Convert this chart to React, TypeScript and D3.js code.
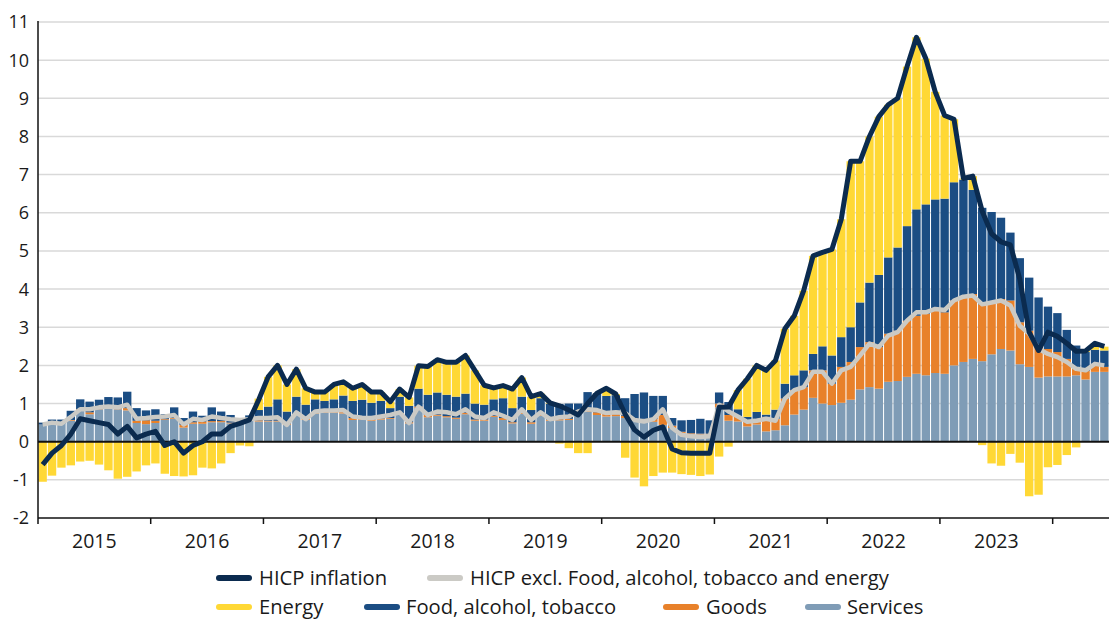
import { useMemo } from "react";
import * as d3 from "d3";

const WIDTH = 1109;
const HEIGHT = 619;
const MARGIN = { top: 22, right: 0, bottom: 101, left: 38 };
const FONT = "'Open Sans', sans-serif";

// monthly observations, Jan 2015 .. Jun 2024
const MONTHS = d3.timeMonth
  .range(new Date(2015, 0, 1), new Date(2024, 6, 1))
  .map(d3.timeFormat("%Y-%m"));
const YEARS = ["2015", "2016", "2017", "2018", "2019", "2020", "2021", "2022", "2023"];
const Y_TICKS = [-2, -1, 0, 1, 2, 3, 4, 5, 6, 7, 8, 9, 10, 11];

// contributions, percentage points
const SERVICES = [
  0.45, 0.48, 0.47, 0.55, 0.83, 0.72, 0.85, 0.88, 0.85, 0.82, 0.49, 0.46,
  0.49, 0.57, 0.6, 0.37, 0.47, 0.47, 0.51, 0.51, 0.48, 0.55, 0.55, 0.53,
  0.53, 0.53, 0.44, 0.7, 0.57, 0.74, 0.76, 0.76, 0.74, 0.57, 0.57, 0.55,
  0.58, 0.6, 0.72, 0.48, 0.88, 0.64, 0.68, 0.64, 0.6, 0.72, 0.55, 0.55,
  0.65, 0.57, 0.48, 0.73, 0.47, 0.68, 0.55, 0.56, 0.57, 0.77, 0.78, 0.7,
  0.66, 0.67, 0.62, 0.55, 0.55, 0.52, 0.44, 0.36, 0.23, 0.19, 0.19, 0.19,
  0.9, 0.55, 0.53, 0.4, 0.45, 0.27, 0.3, 0.43, 0.71, 0.84, 1.15, 1.0,
  0.96, 1.02, 1.1, 1.37, 1.43, 1.39, 1.57, 1.59, 1.7, 1.78, 1.74, 1.8,
  1.78, 2.0, 2.09, 2.17, 2.11, 2.29, 2.43, 2.39, 2.03, 1.96, 1.68, 1.71,
  1.71, 1.71, 1.74, 1.63, 1.83, 1.83,
];
const GOODS = [
  0, 0, 0, 0.02, 0.02, 0.05, 0.02, 0.02, 0.03, 0.06, 0.06, 0.1,
  0.06, 0.02, 0.02, 0.07, 0.04, 0.06, 0.03, 0.03, 0.02, 0.02, 0.02, 0.03,
  0.02, 0.02, 0.02, 0.02, 0.03, 0.02, 0.02, 0.02, 0.05, 0.05, 0.03, 0.03,
  0.03, 0.02, 0.03, 0.03, 0.04, 0.06, 0.03, 0.03, 0.03, 0.04, 0.03, 0.03,
  0.03, 0.05, 0.03, 0.03, 0.04, 0.03, 0.03, 0.03, 0.03, 0.03, 0.05, 0.07,
  0.06, 0.05, 0.06, 0.05, 0.05, 0.07, 0.26, 0.06, 0.03, 0.03, 0.02, 0.02,
  0.1, 0.15, 0.13, 0.15, 0.15, 0.38, 0.3, 0.7, 0.64, 0.59, 0.72, 0.87,
  0.56, 0.94, 0.99, 1.11, 1.18, 1.09, 1.26, 1.32, 1.47, 1.52, 1.61, 1.63,
  1.61, 1.7, 1.69, 1.7, 1.49, 1.36, 1.31, 1.31, 1.1, 0.95, 0.8, 0.72,
  0.64, 0.46, 0.22, 0.22, 0.17, 0.13,
];
const FOOD = [
  0.05, 0.1, 0.11, 0.24, 0.26, 0.28, 0.23, 0.27, 0.28, 0.43, 0.33, 0.26,
  0.3, 0.13, 0.28, 0.18, 0.28, 0.15, 0.36, 0.25, 0.2, 0.01, 0.12, 0.27,
  0.37, 0.56, 0.33, 0.46, 0.37, 0.35, 0.29, 0.33, 0.42, 0.45, 0.5, 0.44,
  0.46, 0.26, 0.43, 0.43, 0.47, 0.53, 0.58, 0.56, 0.55, 0.5, 0.42, 0.39,
  0.43, 0.52, 0.37, 0.42, 0.32, 0.43, 0.42, 0.4, 0.4, 0.2, 0.47, 0.5,
  0.48, 0.5, 0.46, 0.65, 0.69, 0.61, 0.5, 0.2, 0.3, 0.35, 0.39, 0.35,
  0.29, 0.34, 0.19, 0.1, 0.18, 0.06, 0.24, 0.39, 0.39, 0.44, 0.43, 0.63,
  0.74, 0.78, 0.91, 1.17, 1.56, 1.89, 2.0, 2.18, 2.48, 2.79, 2.87, 2.92,
  2.98, 3.1, 3.09, 2.73, 2.53, 2.37, 2.13, 1.78, 1.68, 1.39, 1.3, 1.11,
  1.02, 0.76, 0.56, 0.5, 0.41, 0.43,
];
const ENERGY = [
  -1.05, -0.89, -0.68, -0.62, -0.52, -0.5, -0.6, -0.75, -0.97, -0.92, -0.78, -0.62,
  -0.57, -0.84, -0.9, -0.91, -0.88, -0.68, -0.7, -0.57, -0.3, -0.1, -0.12, 0.3,
  0.78, 0.89, 0.71, 0.72, 0.43, 0.19, 0.23, 0.39, 0.36, 0.33, 0.4, 0.28,
  0.23, 0.17, 0.2, 0.22, 0.6, 0.74, 0.86, 0.85, 0.9, 1.0, 0.87, 0.51,
  0.3, 0.33, 0.5, 0.5, 0.35, 0.12, 0.02, -0.05, -0.17, -0.3, -0.3, 0,
  0.2, 0.03, -0.42, -0.94, -1.17, -0.9, -0.81, -0.81, -0.85, -0.87, -0.9, -0.86,
  -0.39, -0.13, 0.5, 1.0, 1.22, 1.16, 1.29, 1.44, 1.56, 2.09, 2.57, 2.46,
  2.78, 3.09, 4.35, 3.7, 3.83, 4.15, 4.0, 3.91, 4.18, 4.51, 3.82, 2.82,
  2.18, 1.65, 0.03, 0.36, -0.09, -0.57, -0.63, -0.32, -0.55, -1.43, -1.39, -0.67,
  -0.61, -0.35, -0.15, 0.03, 0.17, 0.1,
];
const HICP = [
  -0.6, -0.3, -0.1, 0.2, 0.6, 0.55, 0.5, 0.45, 0.2, 0.4, 0.1, 0.2,
  0.27, -0.1, 0, -0.3, -0.1, 0, 0.2, 0.2, 0.4, 0.48, 0.57, 1.1,
  1.7, 2.0, 1.5, 1.9, 1.4, 1.3, 1.3, 1.5, 1.57, 1.4, 1.5, 1.3,
  1.3, 1.05, 1.38, 1.16, 1.99, 1.97, 2.15, 2.08, 2.08, 2.26, 1.87, 1.48,
  1.41, 1.47, 1.38, 1.68, 1.18, 1.26, 1.02, 0.94, 0.83, 0.7, 1.0, 1.27,
  1.4, 1.25, 0.72, 0.31, 0.12, 0.3, 0.39, -0.19, -0.29, -0.3, -0.3, -0.3,
  0.9, 0.91, 1.35, 1.65, 2.0, 1.87, 2.13, 2.96, 3.3, 3.96, 4.87, 4.96,
  5.04, 5.83, 7.35, 7.35, 8.0, 8.52, 8.83, 9.0, 9.83, 10.6, 10.04, 9.17,
  8.55, 8.45, 6.9, 6.96, 6.04, 5.45, 5.24, 5.16, 4.26, 2.87, 2.39, 2.87,
  2.76, 2.58, 2.37, 2.38, 2.58, 2.5,
];
const CORE = [
  0.45, 0.5, 0.47, 0.65, 0.85, 0.85, 0.9, 0.92, 0.9, 0.97, 0.6, 0.62,
  0.65, 0.66, 0.7, 0.45, 0.6, 0.57, 0.66, 0.62, 0.59, 0.57, 0.59, 0.62,
  0.62, 0.64, 0.44, 0.77, 0.59, 0.79, 0.82, 0.82, 0.83, 0.66, 0.63, 0.62,
  0.66, 0.7, 0.77, 0.49, 0.92, 0.7, 0.79, 0.77, 0.72, 0.85, 0.66, 0.62,
  0.77, 0.68, 0.57, 0.85, 0.57, 0.77, 0.59, 0.64, 0.66, 0.79, 0.85, 0.83,
  0.75, 0.77, 0.75, 0.57, 0.53, 0.59, 0.85, 0.36, 0.18, 0.14, 0.12, 0.14,
  0.97, 0.79, 0.66, 0.52, 0.55, 0.6, 0.55, 1.13, 1.35, 1.43, 1.83, 1.83,
  1.52, 1.87, 1.96, 2.26, 2.57, 2.48, 2.78, 2.87, 3.17, 3.39, 3.39, 3.48,
  3.45, 3.7, 3.8, 3.83, 3.6, 3.65, 3.7, 3.57, 3.04, 2.83, 2.43, 2.3,
  2.22, 2.09, 1.91, 1.87, 2.04, 2.0,
];

const KEYS = ["services", "goods", "food", "energy"] as const;
const COLORS: Record<string, string> = {
  services: "#7f9cb6",
  goods: "#e8812a",
  food: "#1b4d83",
  energy: "#ffd835",
};
const HICP_COLOR = "#0b2b4f";
const CORE_COLOR = "#cbcac5";

export default function App() {
  const rows = useMemo(
    () =>
      MONTHS.map((m, i) => ({
        month: m,
        services: SERVICES[i],
        goods: GOODS[i],
        food: FOOD[i],
        energy: ENERGY[i],
      })),
    []
  );

  const x = d3
    .scaleBand<string>()
    .domain(MONTHS)
    .range([MARGIN.left, WIDTH - MARGIN.right])
    .paddingInner(0.11)
    .paddingOuter(0.05);
  const y = d3
    .scaleLinear()
    .domain([-2, 11])
    .range([HEIGHT - MARGIN.bottom, MARGIN.top]);

  const series = d3
    .stack<any>()
    .keys(KEYS as any)
    .offset(d3.stackOffsetDiverging)(rows);

  const cx = (i: number) => (x(MONTHS[i]) ?? 0) + x.bandwidth() / 2;
  const line = d3
    .line<number>()
    .x((_, i) => cx(i))
    .y((d) => y(d));

  const step = x.step();
  const yearStart = (yr: string) => x(`${yr}-01`)! - (step - x.bandwidth()) / 2;
  const yearBounds = [...YEARS.slice(1), "2024"].map(yearStart);

  const x0 = MARGIN.left;
  const x1 = WIDTH - MARGIN.right;

  const legendRow1 = [
    { label: "HICP inflation", color: HICP_COLOR, sx: 216, tx: 259 },
    {
      label: "HICP excl. Food, alcohol, tobacco and energy",
      color: CORE_COLOR,
      sx: 427,
      tx: 470,
    },
  ];
  const legendRow2 = [
    { label: "Energy", color: COLORS.energy, sx: 216, tx: 259 },
    { label: "Food, alcohol, tobacco", color: COLORS.food, sx: 364, tx: 406 },
    { label: "Goods", color: COLORS.goods, sx: 663, tx: 706 },
    { label: "Services", color: COLORS.services, sx: 805, tx: 847 },
  ];

  return (
    <div style={{ position: "absolute", left: 0, top: 0 }}>
      <svg width={WIDTH} height={HEIGHT} style={{ display: "block", background: "#fff" }}>
        {/* gridlines */}
        {Y_TICKS.filter((t) => t !== 0 && t !== -2).map((t) => (
          <line key={t} x1={x0} x2={x1} y1={y(t)} y2={y(t)} stroke="#d9d9d9" strokeWidth={1.5} />
        ))}

        {/* bars */}
        {series.map((s) => (
          <g key={s.key} fill={COLORS[s.key]}>
            {s.map((d, i) => {
              const top = y(Math.max(d[0], d[1]));
              const h = Math.abs(y(d[0]) - y(d[1]));
              return <rect key={i} x={x(MONTHS[i])} y={top} width={x.bandwidth()} height={h} />;
            })}
          </g>
        ))}

        {/* axes */}
        <line x1={x0} x2={x1} y1={y(0)} y2={y(0)} stroke="#111" strokeWidth={2} />
        <line x1={x0} x2={x1} y1={y(-2)} y2={y(-2)} stroke="#111" strokeWidth={1.5} />
        <line x1={x0} x2={x0} y1={y(11) - 1} y2={y(-2) + 6} stroke="#111" strokeWidth={1.5} />
        {yearBounds.map((bx, i) => (
          <line key={i} x1={bx} x2={bx} y1={y(-2)} y2={y(-2) + 6} stroke="#111" strokeWidth={1.5} />
        ))}

        {/* lines */}
        <path d={line(CORE) ?? ""} fill="none" stroke={CORE_COLOR} strokeWidth={4.5} strokeLinejoin="round" />
        <path d={line(HICP) ?? ""} fill="none" stroke={HICP_COLOR} strokeWidth={5} strokeLinejoin="round" />

        {/* y labels */}
        {Y_TICKS.map((t) => (
          <text
            key={t}
            x={29}
            y={y(t)}
            dy="0.36em"
            textAnchor="end"
            fontFamily={FONT}
            fontSize={18}
            fill="#1a1a1a"
          >
            {t}
          </text>
        ))}

        {/* year labels */}
        {YEARS.map((yr) => (
          <text
            key={yr}
            x={yearStart(yr) + step * 6}
            y={548}
            textAnchor="middle"
            fontFamily={FONT}
            fontSize={19.5}
            fill="#1a1a1a"
          >
            {yr}
          </text>
        ))}

        {/* legend */}
        {[legendRow1, legendRow2].map((row, r) =>
          row.map((it) => (
            <g key={it.label} transform={`translate(0, ${578 + r * 29})`}>
              <line
                x1={it.sx + 3}
                x2={it.sx + 33}
                y1={0}
                y2={0}
                stroke={it.color}
                strokeWidth={6}
                strokeLinecap="round"
              />
              <text x={it.tx} y={0} dy="0.35em" fontFamily={FONT} fontSize={20.2} fill="#1a1a1a">
                {it.label}
              </text>
            </g>
          ))
        )}
      </svg>
    </div>
  );
}
